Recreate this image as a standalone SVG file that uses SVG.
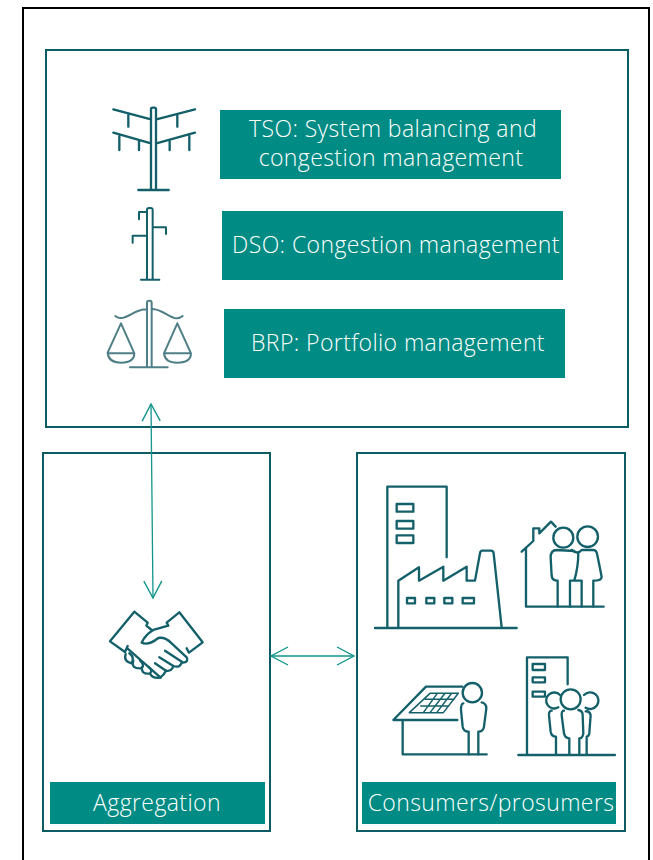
<svg xmlns="http://www.w3.org/2000/svg" width="653" height="860" viewBox="0 0 653 860">
<style>
.frame{fill:#fff;stroke:#0d5c63;stroke-width:2}
.label{fill:#008b84}
.t{font-family:"Open Sans","Liberation Sans",sans-serif;font-size:23px;font-weight:300;letter-spacing:.4px;fill:#fff;text-anchor:middle}
.i{fill:none;stroke:#14606a;stroke-width:7;stroke-linecap:round;stroke-linejoin:round}
.thin{stroke-width:6}
.conn{fill:none;stroke:#12958c;stroke-width:1.3}
</style>
<defs>
<marker id="a" viewBox="0 0 20 20" refX="18" refY="10" markerWidth="20" markerHeight="20" markerUnits="userSpaceOnUse" orient="auto-start-reverse">
<path d="M1 1 L18 10 L1 19" fill="none" stroke="#12958c" stroke-width="1.4"/>
</marker>
</defs>
<rect x="23" y="8" width="626" height="870" fill="#fff" stroke="#000" stroke-width="2"/>
<g id="top-panel"><rect class="frame" x="46" y="50" width="582" height="377"/></g>
<g id="aggregation-panel"><rect class="frame" x="43" y="453" width="227" height="378"/></g>
<g id="consumers-panel"><rect class="frame" x="357" y="453" width="268" height="378"/></g>

<g id="tso">
<rect class="label" x="220" y="110" width="341" height="69"/>
<text class="t"><tspan x="393" y="137">TSO: System balancing and</tspan><tspan x="391" y="166">congestion management</tspan></text>
<g class="i" transform="translate(90,90) scale(.3333)">
<path d="M183 300V58Q183 53 188 53H193Q198 53 198 58V300M145 300H236M70 58L183 88M199 88L315 58M70 128L183 160M199 160L315 128M115 72V110M262 72V110M88 137V180M147 153V180M239 153V180M298 137V180"/>
</g>
</g>
<g id="dso">
<rect class="label" x="222" y="211" width="341" height="69"/>
<text class="t" x="396" y="253">DSO: Congestion management</text>
<g class="i thin" transform="translate(90,90) scale(.3333)">
<path d="M171 568V360Q171 354 177 354H182Q188 354 188 360V568M153 569H208M171 366H147V388M188 412H228V432M171 437H128V458"/>
</g>
</g>
<g id="brp">
<rect class="label" x="224" y="309" width="341" height="69"/>
<text class="t" x="398" y="351">BRP: Portfolio management</text>
<g class="i thin" style="stroke:#4f7f86" transform="translate(90,90) scale(.3333)">
<path d="M171 832V638Q171 632 177 632H179Q185 632 185 638V832M120 832H233M76 678C100 700 130 658 168 658M188 657C225 658 250 702 278 678M93 700L53 788Q55 818 93 818Q133 818 133 790L93 700M53 790H133M262 700L222 790Q225 818 262 818Q303 818 303 790L262 700M222 790H303"/>
</g>
</g>

<g id="aggregation">
<rect class="label" x="50" y="782" width="215" height="42"/>
<text class="t" x="157" y="811">Aggregation</text>
<g class="i" transform="translate(90,580) scale(.3333)">
<path d="M133 95L60 184L105 216L113 198M133 95L173 128L169 137L185 150M112 205L212 293M268 97L230 128L235 137L190 150Q165 165 155 188Q175 198 205 174Q225 170 245 190L290 232Q297 245 280 248L225 212M268 97L338 187L297 218L290 205M275 248Q270 265 250 258L208 232M250 258Q245 275 228 272L195 250"/>
<path d="M107 222Q100 245 125 250Q135 232 118 220M130 242Q122 268 155 265Q165 255 150 242M155 262Q155 285 180 280Q190 272 175 260M180 280Q185 295 210 293Q222 285 228 272"/>
</g>
</g>

<g id="consumers">
<rect class="label" x="362" y="782" width="254" height="42"/>
<text class="t" x="491" y="811">Consumers/prosumers</text>
<g id="factory" class="i" transform="translate(365,470) scale(.3333)">
<path d="M30 474H455M67 472V50H245V262M100 472V332L162 292V332L235 290V332L305 290V332H330L345 250Q346 242 352 242H378Q385 242 386 250L410 472"/>
<path d="M95 102H145V125H95ZM95 153H145V176H95ZM95 196H145V219H95ZM126 384H150V400H126ZM184 384H208V400H184ZM238 384H262V400H238ZM293 384H327V400H293Z"/>
</g>
<g id="family" class="i" transform="translate(365,470) scale(.3333)">
<path d="M470 245L505 213V175H523V190L558 155L572 170M483 235V410H716"/>
<circle cx="595" cy="203" r="30"/><circle cx="668" cy="200" r="31"/>
<path d="M628 243L575 240Q557 240 557 262L560 318Q562 332 578 332V410M615 410V332H650V410M620 240Q638 255 650 240H685Q695 240 697 255L710 320Q710 332 685 332V410M628 332Q640 290 640 250"/>
</g>
<g id="solar" class="i" transform="translate(380,640) scale(.3333)">
<path d="M247 140H138L40 240H232M68 240V343H320"/>
<circle cx="277" cy="158" r="29"/>
<path d="M250 190Q243 190 243 210L248 260Q250 275 266 275V343M295 343V275Q310 275 312 260L319 205Q319 190 305 187"/>
<path d="M150 160H235L190 218H88ZM136 178H222M122 198H206M172 160L130 218M195 160L150 218M215 160L170 218" style="stroke-width:4.5"/>
</g>
<g id="apartment" class="i" transform="translate(380,640) scale(.3333)">
<path d="M441 343V52H563V133M415 345H705"/>
<path d="M458 72H495V90H458ZM458 112H495V127H458ZM458 155H495V170H458Z"/>
<circle cx="572" cy="178" r="30"/>
<path d="M535 202A24 24 0 1 1 540 165M612 165A25 25 0 1 1 617 203"/>
<path d="M515 212Q507 212 507 225L512 275Q515 290 528 290V343M552 212Q545 212 545 225L552 280Q555 295 568 295V343M598 343V295Q608 295 610 280L608 225Q608 212 595 210M617 214Q628 212 632 225L628 280Q626 290 620 290V343"/>
</g>
</g>

<g id="connectors">
<path class="conn" d="M151 404L153 598" marker-start="url(#a)" marker-end="url(#a)"/>
<path class="conn" d="M271 656H354" marker-start="url(#a)" marker-end="url(#a)"/>
</g>
</svg>
